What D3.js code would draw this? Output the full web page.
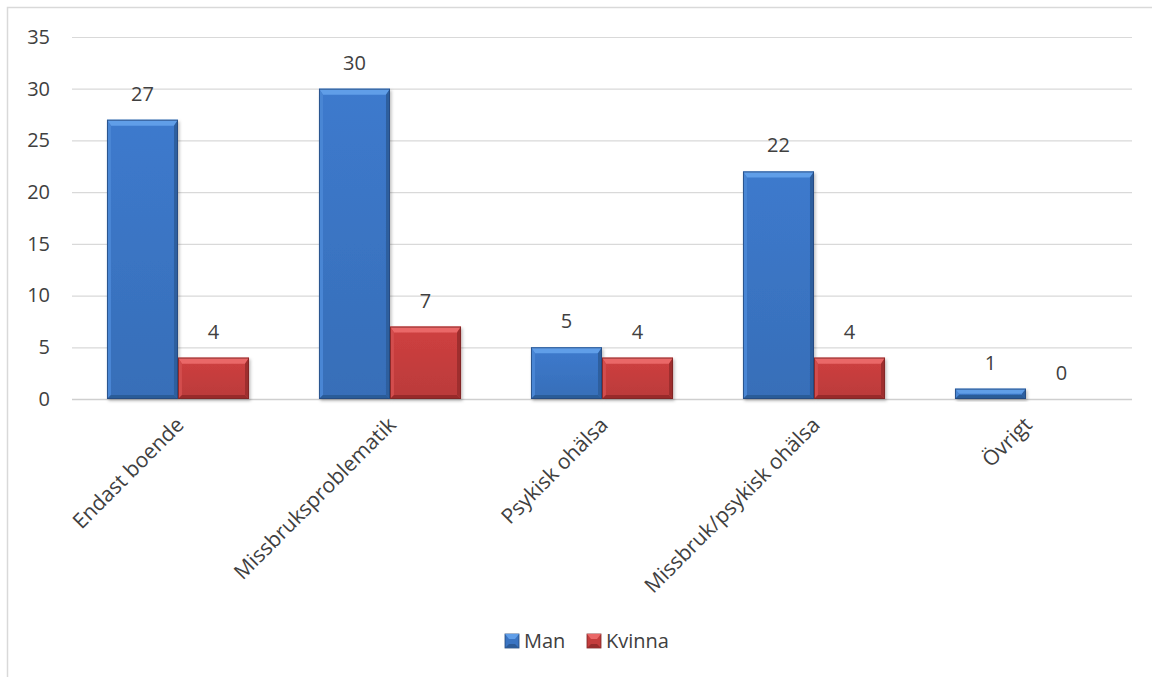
<!DOCTYPE html>
<html lang="sv">
<head>
<meta charset="utf-8">
<title>Man / Kvinna</title>
<script src="https://cdn.jsdelivr.net/npm/d3@7"></script>
<style>
  body { margin: 0; background: #fff; }
  svg text { font-family: "Open Sans", "Noto Sans", sans-serif; fill: #404040; }
</style>
</head>
<body>
<div id="chart"></div>
<script>
  const categories = ['Endast boende', 'Missbruksproblematik', 'Psykisk ohälsa', 'Missbruk/psykisk ohälsa', 'Övrigt'];
  const seriesNames = ['Man', 'Kvinna'];
  const man = [27, 30, 5, 22, 1];
  const kvinna = [4, 7, 4, 4, 0];
  const yTicks = [0, 5, 10, 15, 20, 25, 30, 35];

  const width = 1152, height = 677;
  const margin = { top: 37, right: 20, bottom: 278, left: 72 };
  const chartW = width - margin.left - margin.right;
  const chartH = height - margin.top - margin.bottom;

  const palette = {
    Man: { face: '#3a74c2', top: '#609ee8', left: '#4a86d4', right: '#2d5e9e', bottom: '#2c5b98', edge: '#24497c' },
    Kvinna: { face: '#c43d3d', top: '#ea6868', left: '#d24d4d', right: '#9e2e2e', bottom: '#982c2c', edge: '#7c2424' }
  };

  const svg = d3.select('#chart').append('svg').attr('width', width).attr('height', height);

  // ram runt diagrammet (bara topp och vänster syns)
  svg.append('path')
    .attr('d', `M7.5,${height} V7.5 H${width}`)
    .attr('fill', 'none').attr('stroke', '#d9d9d9').attr('stroke-width', 1.5);

  const defs = svg.append('defs');
  seriesNames.forEach(s => {
    const g = defs.append('linearGradient').attr('id', 'grad-' + s).attr('x1', 0).attr('y1', 0).attr('x2', 0).attr('y2', 1);
    g.append('stop').attr('offset', '0%').attr('stop-color', d3.color(palette[s].face).brighter(0.15));
    g.append('stop').attr('offset', '100%').attr('stop-color', d3.color(palette[s].face).darker(0.15));
  });
  const shadow = defs.append('filter').attr('id', 'shadow').attr('x', '-10%').attr('y', '-10%').attr('width', '130%').attr('height', '130%');
  shadow.append('feDropShadow').attr('dx', 1.5).attr('dy', 2).attr('stdDeviation', 1.5).attr('flood-color', '#000').attr('flood-opacity', 0.25);

  const g = svg.append('g').attr('transform', `translate(${margin.left},${margin.top})`);

  const x0 = d3.scaleBand().domain(categories).range([0, chartW]).paddingInner(0.33).paddingOuter(0.165);
  const x1 = d3.scaleBand().domain(seriesNames).range([0, x0.bandwidth()]);
  const y = d3.scaleLinear().domain([0, 35]).range([chartH, 0]);

  // stödlinjer
  g.append('g').selectAll('line').data(yTicks).join('line')
    .attr('x1', 0).attr('x2', chartW)
    .attr('y1', d => y(d) + 0.5).attr('y2', d => y(d) + 0.5)
    .attr('stroke', d => d === 0 ? '#cfcfcf' : '#d9d9d9').attr('stroke-width', d => d === 0 ? 1.5 : 1.2);

  // y-axel
  const yAxis = d3.axisLeft(y).tickValues(yTicks).tickSize(0).tickPadding(22);
  g.append('g').call(yAxis)
    .call(a => a.select('.domain').remove())
    .selectAll('text').attr('font-size', 20).style('font-family', '"Open Sans", sans-serif').attr('fill', '#404040');

  const rows = categories.map((c, i) => ({ cat: c, vals: [{ s: 'Man', v: man[i] }, { s: 'Kvinna', v: kvinna[i] }] }));

  function bevel(sel) {
    sel.each(function (d) {
      const el = d3.select(this);
      const p = palette[d.s];
      const bx = x1(d.s), w = x1.bandwidth();
      const by = y(d.v), h = y(0) - y(d.v);
      if (h <= 0) return;
      const bt = Math.min(6, h / 2), bs = Math.min(4, h / 2);
      const body = el.append('g').attr('filter', 'url(#shadow)');
      body.append('rect').attr('x', bx).attr('y', by).attr('width', w).attr('height', h)
        .attr('fill', `url(#grad-${d.s})`);
      const poly = (pts, fill) => body.append('polygon').attr('points', pts.map(q => q.join(',')).join(' ')).attr('fill', fill);
      poly([[bx, by], [bx + w, by], [bx + w - bs, by + bt], [bx + bs, by + bt]], p.top);
      poly([[bx, by], [bx + bs, by + bt], [bx + bs, by + h - bs], [bx, by + h]], p.left);
      poly([[bx + w, by], [bx + w - bs, by + bt], [bx + w - bs, by + h - bs], [bx + w, by + h]], p.right);
      poly([[bx, by + h], [bx + bs, by + h - bs], [bx + w - bs, by + h - bs], [bx + w, by + h]], p.bottom);
      body.append('rect').attr('x', bx + 0.5).attr('y', by + 0.5).attr('width', w - 1).attr('height', Math.max(0, h - 1))
        .attr('fill', 'none').attr('stroke', p.edge).attr('stroke-width', 1).attr('stroke-opacity', 0.8);
    });
  }

  const groups = g.append('g').selectAll('g.cat').data(rows).join('g')
    .attr('class', 'cat').attr('transform', d => `translate(${x0(d.cat)},0)`);

  groups.selectAll('g.bar').data(d => d.vals).join('g').attr('class', 'bar').call(bevel);

  // värdeetiketter
  groups.selectAll('text.value').data(d => d.vals).join('text')
    .attr('class', 'value')
    .attr('x', d => x1(d.s) + x1.bandwidth() / 2)
    .attr('y', d => y(d.v) - 19)
    .attr('text-anchor', 'middle')
    .attr('font-size', 20)
    .text(d => d.v);

  // kategorier, roterade
  g.append('g').selectAll('text').data(categories).join('text')
    .attr('transform', d => `translate(${x0(d) + x0.bandwidth() / 2 + 2},${chartH + 22}) rotate(-45)`)
    .attr('text-anchor', 'end')
    .attr('dy', '0.35em')
    .attr('font-size', 21)
    .text(d => d);

  // förklaring
  const legend = svg.append('g').attr('transform', 'translate(505,641)');
  const items = legend.selectAll('g').data(seriesNames).join('g')
    .attr('transform', (d, i) => `translate(${i * 82},0)`);
  items.each(function (s) {
    const it = d3.select(this), p = palette[s];
    it.append('rect').attr('x', 0).attr('y', -7).attr('width', 14).attr('height', 14).attr('fill', p.face).attr('stroke', p.edge).attr('stroke-width', 0.8);
    it.append('polygon').attr('points', '0,-7 14,-7 10,-2 4,-2').attr('fill', p.top);
    it.append('polygon').attr('points', '0,7 14,7 10,3 4,3').attr('fill', p.bottom);
  });
  items.append('text').attr('x', 19).attr('dy', '0.35em').attr('font-size', 20).text(d => d);
</script>
</body>
</html>
